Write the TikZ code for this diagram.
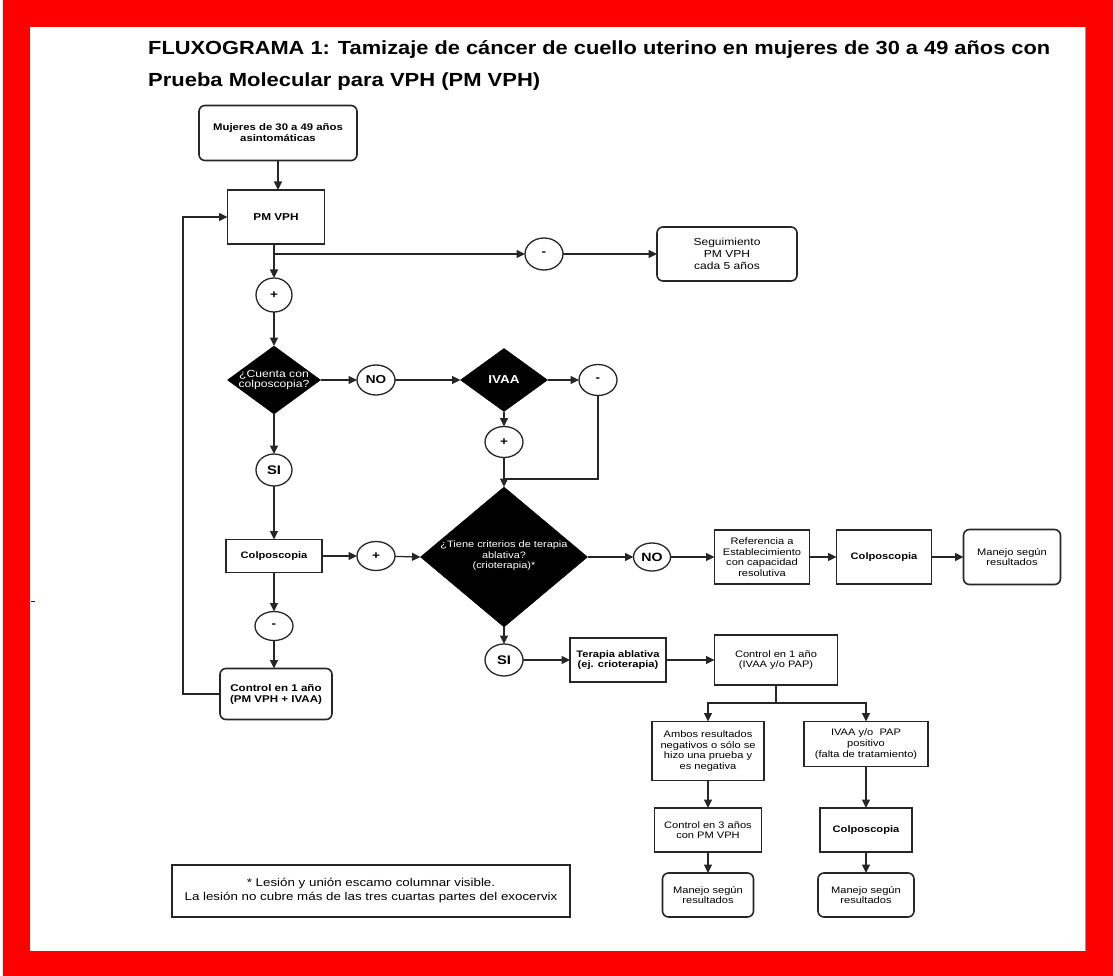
\documentclass[tikz,border=0pt]{standalone}
\usepackage{fontspec}
\setmainfont{Liberation Sans}[FakeStretch=1.18]
\newfontfamily\titlefont{Liberation Sans}
\usetikzlibrary{arrows.meta,shapes.geometric,calc}

\tikzset{
  box/.style={draw=black!85, line width=1.6pt, fill=white, align=center,
    inner sep=0pt, outer sep=0pt, font=\fontsize{9.4}{10.6}\selectfont},
  bbox/.style={box, font=\bfseries\fontsize{9.4}{10.6}\selectfont},
  rbox/.style={box, rounded corners=6pt},
  rbbox/.style={bbox, rounded corners=6pt},
  dia/.style={diamond, fill=black, draw=black, inner sep=0pt, outer sep=0pt},
  dtext/.style={text=white, align=center, inner sep=0pt},
  ell/.style={ellipse, draw=black!85, line width=1.3pt, fill=white,
    inner sep=0pt, outer sep=0pt, font=\bfseries\fontsize{11.5}{12}\selectfont},
  ln/.style={draw=black!85, line width=1.25pt},
  arr/.style={ln, -{Triangle[length=8.5pt,width=8pt]}},
}

\begin{document}
\begin{tikzpicture}[x=1pt, y=-1pt]
  \useasboundingbox (0,0) rectangle (1113,976);
  % red frame around the sheet
  \fill[red] (0,0) rectangle (1113,976);
  \fill[white] (0,0) rectangle (3,976);
  \fill[white] (30,27) rectangle (1085,951);
  \draw[black!40, line width=1.5pt] (1085.5,27) -- (1085.5,951);
  \draw[blue, line width=1pt] (31,601) -- (35,601);

  % title
  \node[anchor=west, inner sep=0pt, font=\titlefont\bfseries\fontsize{19}{22}\selectfont] (t1) at (148,50)
    {\resizebox{902pt}{\height}{FLUXOGRAMA 1: Tamizaje de cáncer de cuello uterino en mujeres de 30 a 49 años con}};
  \node[anchor=west, inner sep=0pt, font=\titlefont\bfseries\fontsize{19}{22}\selectfont] (t2) at (148,82)
    {\resizebox{392pt}{\height}{Prueba Molecular para VPH (PM VPH)}};

  % left column
  \node[rbbox, minimum width=158pt, minimum height=55pt, font=\bfseries\fontsize{9.6}{11}\selectfont] (mujeres) at (278,133)
    {Mujeres de 30 a 49 años\\asintomáticas};
  \node[bbox, minimum width=97pt, minimum height=54pt, font=\bfseries\fontsize{10}{11}\selectfont] (pmvph) at (276,217) {PM VPH};
  \coordinate (br1) at (274,254);
  \node[ell, minimum width=38pt, minimum height=32pt] (minus1) at (544,254) {-};
  \node[rbox, minimum width=140pt, minimum height=54pt, font=\fontsize{10.2}{11.7}\selectfont] (seg) at (727,254)
    {Seguimiento\\PM VPH\\cada 5 años};
  \node[ell, minimum width=36pt, minimum height=34pt] (plus1) at (274,295) {+};

  \node[dia, minimum width=93pt, minimum height=68pt] (d1) at (274,380) {};
  \node[dtext, font=\fontsize{10.3}{10.5}\selectfont] (d1t) at (d1.center) {¿Cuenta con\\colposcopia?};
  \node[ell, minimum width=38pt, minimum height=30pt] (no1) at (376,380) {NO};
  \node[dia, minimum width=87pt, minimum height=63pt] (ivaa) at (504,380) {};
  \node[dtext, font=\bfseries\fontsize{11.5}{12}\selectfont] (ivaat) at (ivaa.center) {IVAA};
  \node[ell, minimum width=38pt, minimum height=31pt] (minus3) at (598,380) {-};
  \node[ell, minimum width=38pt, minimum height=31pt] (plus2) at (504,442) {+};
  \coordinate (j1) at (504,479);

  \node[ell, minimum width=36pt, minimum height=32pt, font=\bfseries\fontsize{12.5}{13}\selectfont] (si1) at (274,470) {SI};
  \node[bbox, minimum width=96pt, minimum height=33pt] (colpo1) at (274,556) {Colposcopia};
  \node[ell, minimum width=38pt, minimum height=29pt] (plus3) at (376,556) {+};
  \node[ell, minimum width=38pt, minimum height=29pt] (minus2) at (274,626) {-};
  \node[rbbox, minimum width=112pt, minimum height=51pt, font=\bfseries\fontsize{9.8}{11}\selectfont] (control1) at (276,694)
    {Control en 1 año\\(PM VPH + IVAA)};
  \coordinate (lp) at (183,694);

  % central decision
  \node[dia, minimum width=167pt, minimum height=140pt] (d2) at (504,557) {};
  \node[dtext, font=\fontsize{9.3}{10.5}\selectfont] (d2t) at (504,556)
    {¿Tiene criterios de terapia\\ablativa?\\(crioterapia)*};

  % right row
  \node[ell, minimum width=37pt, minimum height=28pt, font=\bfseries\fontsize{12}{12}\selectfont] (no2) at (652,557) {NO};
  \node[box, minimum width=95pt, minimum height=54pt] (ref) at (762,557)
    {Referencia a\\Establecimiento\\con capacidad\\resolutiva};
  \node[bbox, minimum width=95pt, minimum height=54pt] (colpo2) at (884,557) {Colposcopia};
  \node[rbox, minimum width=97pt, minimum height=55pt] (manejo1) at (1012,557)
    {Manejo según\\resultados};

  % lower branch
  \node[ell, minimum width=38pt, minimum height=32pt, font=\bfseries\fontsize{12.5}{13}\selectfont] (si2) at (504,660) {SI};
  \node[bbox, minimum width=96pt, minimum height=44pt] (terapia) at (618,660)
    {Terapia ablativa\\(ej. crioterapia)};
  \node[box, minimum width=123pt, minimum height=50pt] (control2) at (776,660)
    {Control en 1 año\\(IVAA y/o PAP)};
  \coordinate (b2) at (776,703);
  \node[box, minimum width=112pt, minimum height=59pt] (ambos) at (708,751)
    {Ambos resultados\\negativos o sólo se\\hizo una prueba y\\es negativa};
  \node[box, minimum width=124pt, minimum height=45pt] (ivaapap) at (866,744)
    {IVAA y/o\ \ PAP\\positivo\\(falta de tratamiento)};
  \node[box, minimum width=107pt, minimum height=44pt] (control3) at (708,830)
    {Control en 3 años\\con PM VPH};
  \node[bbox, minimum width=92pt, minimum height=44pt] (colpo3) at (866,830) {Colposcopia};
  \node[rbox, minimum width=91pt, minimum height=44pt] (manejo2) at (708,895)
    {Manejo según\\resultados};
  \node[rbox, minimum width=96pt, minimum height=44pt] (manejo3) at (866,895)
    {Manejo según\\resultados};

  % footnote
  \node[box, line width=1.3pt, minimum width=398pt, minimum height=52pt, font=\fontsize{11.3}{14}\selectfont] (foot) at (371,891)
    {* Lesión y unión escamo columnar visible.\\La lesión no cubre más de las tres cuartas partes del exocervix};

  % connectors
  \draw[arr] (mujeres.south) -- (mujeres.south |- pmvph.north);
  \draw[arr] (plus1 |- pmvph.south) -- (plus1.north);
  \draw[arr] (br1) -- (minus1.west);
  \draw[arr] (minus1) -- (seg);
  \draw[arr] (plus1) -- (d1.north);
  \draw[arr] (d1.east) -- (no1);
  \draw[arr] (no1) -- (ivaa.west);
  \draw[arr] (ivaa.east) -- (minus3);
  \draw[arr] (ivaa.south) -- (plus2);
  \draw[arr] (plus2) -- (d2.north);
  \draw[ln] (minus3.south) |- (j1);
  \draw[arr] (d1.south) -- (si1);
  \draw[arr] (si1) -- (colpo1);
  \draw[arr] (colpo1) -- (plus3);
  \draw[arr] (plus3) -- (d2.west);
  \draw[arr] (colpo1) -- (minus2);
  \draw[arr] (minus2) -- (minus2 |- control1.north);
  \draw[arr] (control1.west) -- (lp) |- (pmvph.west);
  \draw[arr] (d2.east) -- (no2);
  \draw[arr] (no2) -- (ref);
  \draw[arr] (ref) -- (colpo2);
  \draw[arr] (colpo2) -- (manejo1);
  \draw[arr] (d2.south) -- (si2);
  \draw[arr] (si2) -- (terapia);
  \draw[arr] (terapia) -- (control2);
  \draw[ln] (control2.south) -- (b2);
  \draw[arr] (b2) -| (ambos.north);
  \draw[arr] (b2) -| (ivaapap.north);
  \draw[arr] (ambos) -- (control3);
  \draw[arr] (control3) -- (manejo2);
  \draw[arr] (ivaapap) -- (colpo3);
  \draw[arr] (colpo3) -- (manejo3);
\end{tikzpicture}
\end{document}
